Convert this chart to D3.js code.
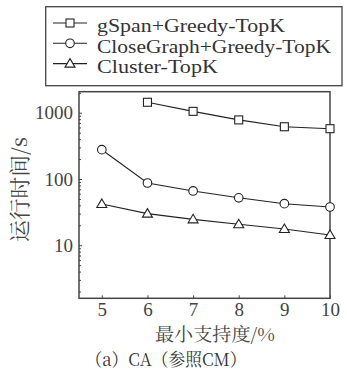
<!DOCTYPE html>
<html><head><meta charset="utf-8">
<script src="https://cdn.jsdelivr.net/npm/d3@7"></script>
<style>html,body{margin:0;padding:0;background:#fff;}</style>
</head><body>
<script>
const supports = [5, 6, 7, 8, 9, 10];
const gspanValues = [null, 1440, 1050, 780, 615, 575];
const closeGraphValues = [277, 87, 66, 52, 42.4, 37.8];
const clusterValues = [42, 30, 24.6, 20.7, 17.6, 14.3];
const seriesNames = ["gSpan+Greedy-TopK", "CloseGraph+Greedy-TopK", "Cluster-TopK"];
const yTicks = [10, 100, 1000];
const xTicks = [5, 6, 7, 8, 9, 10];
const xTitle = "最小支持度/%";
const yTitle = "运行时间/s";
const caption = "（a）CA（参照CM）";

const W = 347, H = 375;
const svg = d3.select("body").append("svg").attr("width", W).attr("height", H);
const latin = "Liberation Serif";
const cjk = "Noto Serif CJK SC";

const x = d3.scaleLinear().domain([4.5, 10]).range([79, 330]);
const y = d3.scaleLog().domain([1.58, 2080]).range([298.3, 91.7]);

// frame
svg.append("rect").attr("x", 79).attr("y", 91.7).attr("width", 251).attr("height", 206.6)
  .attr("fill", "none").attr("stroke", "#444").attr("stroke-width", 1.5);

// y axis (ticks inward)
const yMinor = [];
for (let d = 1; d <= 1000; d *= 10) for (let k = 1; k <= 9; k++) { const v = d * k; if (v >= 1.58 && v <= 2080 && !yTicks.includes(v)) yMinor.push(v); }
const yAxis = d3.axisLeft(y).tickValues(yTicks).tickFormat(d3.format("d")).tickSizeInner(-3).tickSizeOuter(0).tickPadding(6);
const gy = svg.append("g").attr("transform", "translate(79,0)").call(yAxis);
gy.attr("font-family", latin).attr("font-size", 19);
gy.select(".domain").remove();
gy.selectAll("line").attr("stroke", "#444");
gy.selectAll("text").attr("fill", "#444");
const gym = svg.append("g").attr("transform", "translate(79,0)")
  .call(d3.axisLeft(y).tickValues(yMinor).tickFormat("").tickSizeInner(-2).tickSizeOuter(0));
gym.select(".domain").remove();
gym.selectAll("line").attr("stroke", "#444");

// x axis
const xAxis = d3.axisBottom(x).tickValues(xTicks).tickFormat(d3.format("d")).tickSizeInner(-3).tickSizeOuter(0).tickPadding(4);
const gx = svg.append("g").attr("transform", "translate(0,298.3)").call(xAxis);
gx.attr("font-family", latin).attr("font-size", 19);
gx.select(".domain").remove();
gx.selectAll("line").attr("stroke", "#444");
gx.selectAll("text").attr("fill", "#444");

// titles
svg.append("text").attr("x", 215).attr("y", 341).attr("text-anchor", "middle")
  .attr("font-family", cjk).attr("font-size", 18).attr("fill", "#444")
  .attr("textLength", 120).attr("lengthAdjust", "spacingAndGlyphs").text(xTitle);
svg.append("text").attr("transform", "translate(27,189.5) rotate(-90)").attr("text-anchor", "middle")
  .attr("font-family", cjk).attr("font-size", 21).attr("fill", "#444")
  .attr("textLength", 105).attr("lengthAdjust", "spacingAndGlyphs").text(yTitle);
svg.append("text").attr("x", 166).attr("y", 366).attr("text-anchor", "middle")
  .attr("font-family", cjk).attr("font-size", 18).attr("fill", "#333")
  .attr("textLength", 161).attr("lengthAdjust", "spacingAndGlyphs").text(caption);

// series
const series = [
  { name: seriesNames[0], values: gspanValues, shape: "square", w: 188 },
  { name: seriesNames[1], values: closeGraphValues, shape: "circle", w: 234 },
  { name: seriesNames[2], values: clusterValues, shape: "triangle", w: 121 }
];
function marker(g, shape, cx, cy) {
  if (shape === "square") g.append("rect").attr("x", cx - 4).attr("y", cy - 4).attr("width", 8).attr("height", 8)
    .attr("fill", "#fff").attr("stroke", "#222").attr("stroke-width", 1.1);
  else if (shape === "circle") g.append("circle").attr("cx", cx).attr("cy", cy).attr("r", 4.3)
    .attr("fill", "#fff").attr("stroke", "#222").attr("stroke-width", 1.1);
  else g.append("path").attr("d", `M${cx},${cy - 5}L${cx + 5},${cy + 3.5}L${cx - 5},${cy + 3.5}Z`)
    .attr("fill", "#fff").attr("stroke", "#222").attr("stroke-width", 1.1);
}
const line = d3.line().defined(d => d[1] != null).x(d => x(d[0])).y(d => y(d[1]));
series.forEach(s => {
  const pts = supports.map((v, i) => [v, s.values[i]]);
  svg.append("path").attr("d", line(pts)).attr("fill", "none").attr("stroke", "#222").attr("stroke-width", 1.1);
  const g = svg.append("g");
  pts.filter(p => p[1] != null).forEach(p => marker(g, s.shape, x(p[0]), y(p[1])));
});

// legend
svg.append("rect").attr("x", 45.7).attr("y", 6.7).attr("width", 296.3).attr("height", 79)
  .attr("fill", "#fff").attr("stroke", "#444").attr("stroke-width", 1.3);
series.forEach((s, i) => {
  const cy = 23 + i * 20.3;
  svg.append("line").attr("x1", 53).attr("x2", 87).attr("y1", cy).attr("y2", cy).attr("stroke", "#222").attr("stroke-width", 1.1);
  marker(svg, s.shape, 70, cy);
  svg.append("text").attr("x", 97).attr("y", 32 + i * 20.5).attr("font-family", latin).attr("font-size", 18.5)
    .attr("fill", "#333").attr("textLength", s.w).attr("lengthAdjust", "spacingAndGlyphs").text(s.name);
});
</script>
</body></html>
